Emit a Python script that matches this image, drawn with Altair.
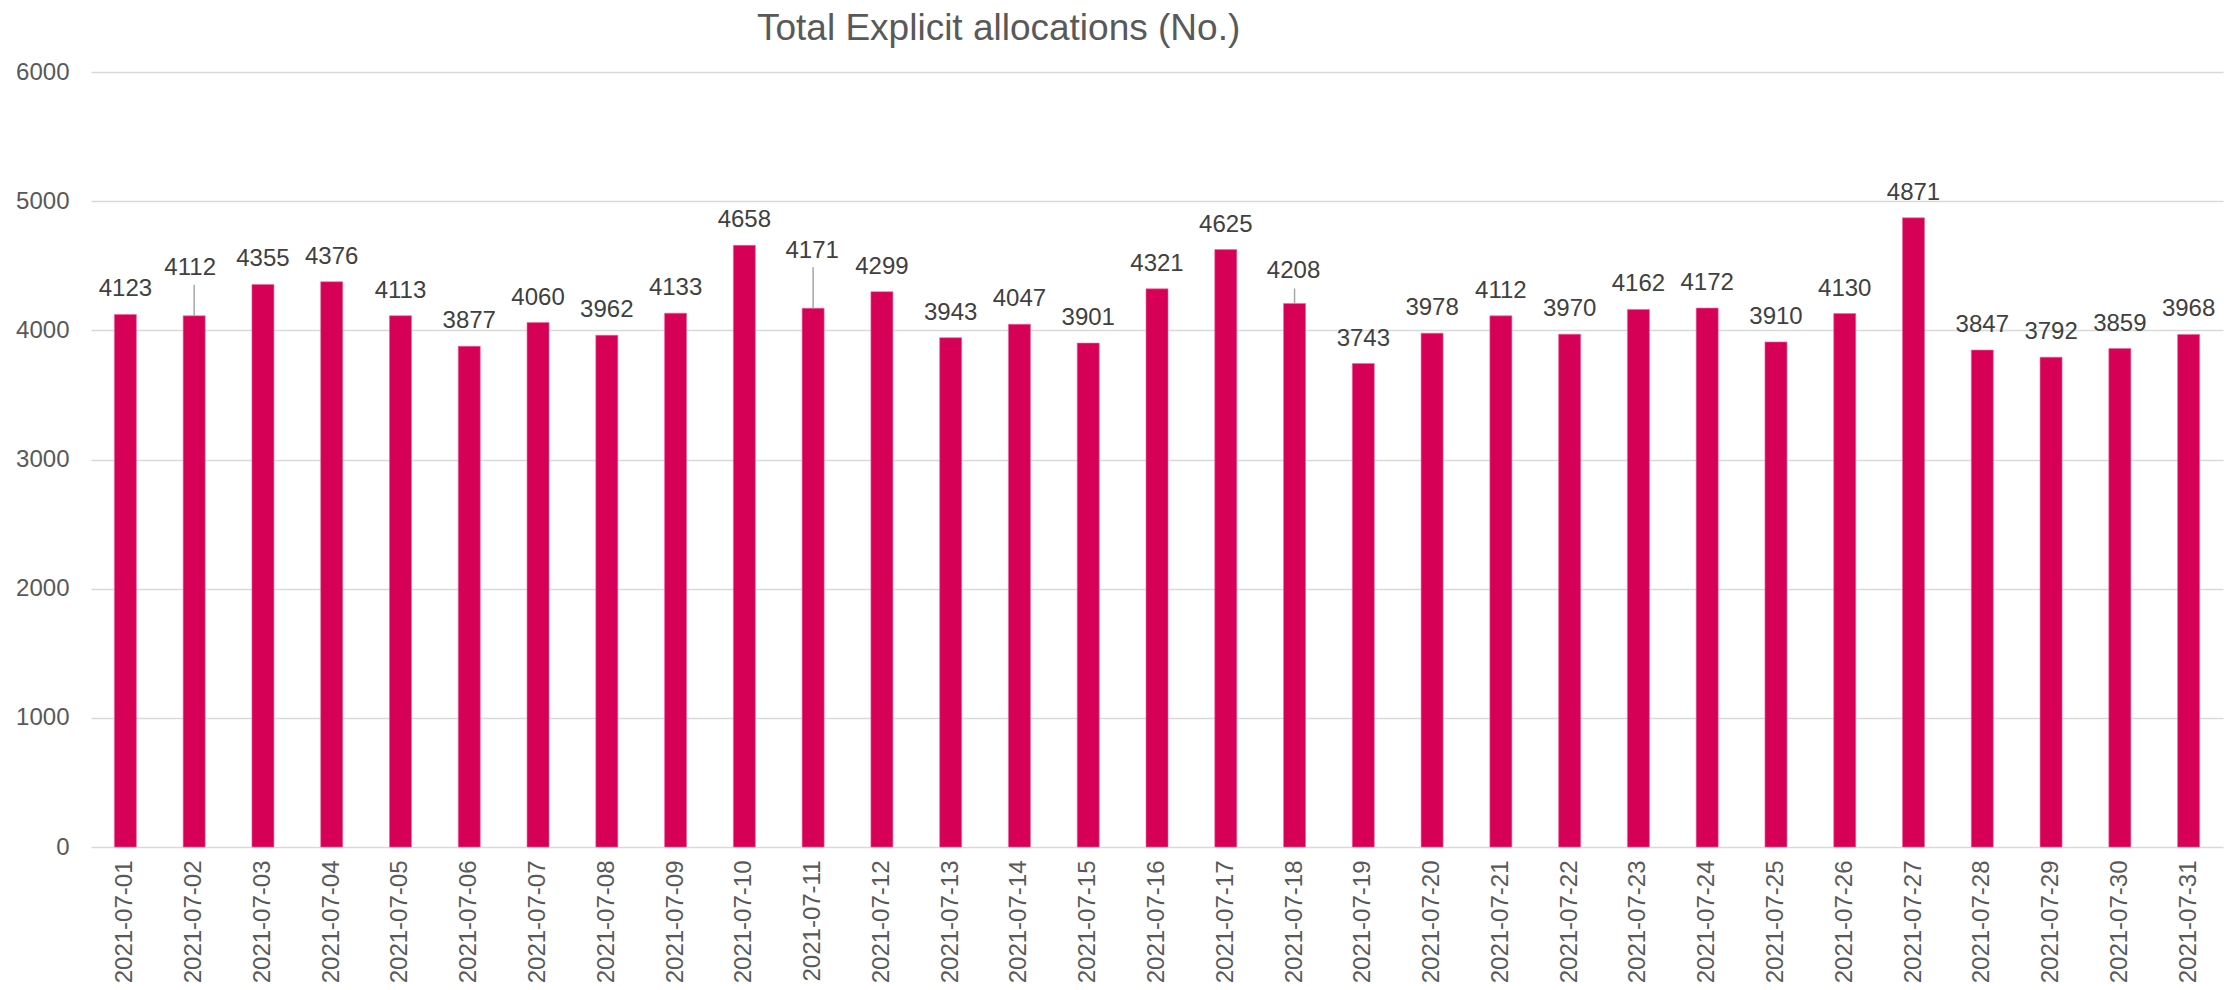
import altair as alt
import pandas as pd

dates = [f"2021-07-{d:02d}" for d in range(1, 32)]
values = [4123, 4112, 4355, 4376, 4113, 3877, 4060, 3962, 4133, 4658,
          4171, 4299, 3943, 4047, 3901, 4321, 4625, 4208, 3743, 3978,
          4112, 3970, 4162, 4172, 3910, 4130, 4871, 3847, 3792, 3859, 3968]
y_ticks = [0, 1000, 2000, 3000, 4000, 5000, 6000]
title_text = "Total Explicit allocations (No.)"

# labels that the original chart moved up and joined to their bar with a leader line
leader_labels = {"2021-07-02": (41, 31, -4), "2021-07-11": (50, 41, -1), "2021-07-18": (25, 15, -1)}

df = pd.DataFrame({"date": dates, "value": values})

FONT = "Liberation Sans"
BAR = "#D60057"

x_enc = alt.X("date:N", sort=dates, title=None,
              axis=alt.Axis(labelAngle=270, labelFontSize=24, labelFont=FONT,
                            labelColor="#595959", ticks=False, domain=False,
                            labelPadding=13, grid=False),
              scale=alt.Scale(paddingInner=0, paddingOuter=0))
y_enc = alt.Y("value:Q", title=None,
              scale=alt.Scale(domain=[0, 6000], nice=False),
              axis=alt.Axis(values=y_ticks, format="d", labelFontSize=24, labelFont=FONT,
                            labelColor="#595959", ticks=False, domain=False,
                            labelPadding=22, gridColor="#d9d9d9", gridWidth=1.5))

base = alt.Chart(df)

bars = base.mark_bar(size=22, color=BAR, stroke="#e8689b", strokeWidth=0.6).encode(x=x_enc, y=y_enc)

leader_keys = list(leader_labels.keys())
normal_text = base.transform_filter(
    ~alt.FieldOneOfPredicate(field="date", oneOf=leader_keys)
).mark_text(fontSize=24, font=FONT, color="#404040", baseline="alphabetic", dy=-18).encode(
    x=alt.X("date:N", sort=dates), y="value:Q", text=alt.Text("value:Q", format="d"))

layers = [bars, normal_text]
for key, (lift, line_len, dx) in leader_labels.items():
    sub = base.transform_filter(alt.datum.date == key)
    layers.append(sub.mark_rule(color="#a6a6a6", strokeWidth=1.5, y2Offset=-line_len).encode(
        x=alt.X("date:N", sort=dates), y="value:Q", y2="value:Q"))
    layers.append(sub.mark_text(fontSize=24, font=FONT, color="#404040", baseline="alphabetic",
                                dy=-lift, dx=dx).encode(
        x=alt.X("date:N", sort=dates), y="value:Q", text=alt.Text("value:Q", format="d")))

chart = alt.layer(*layers).properties(
    width=2132, height=775,
    autosize="none",
    background="white",
    padding={"left": 83, "top": 64, "right": 2, "bottom": 135},
    title=alt.TitleParams(title_text, fontSize=37, font=FONT, color="#595959",
                          fontWeight="normal", anchor="start", frame="group",
                          dx=666, offset=12),
).configure_view(strokeWidth=0)

chart.save("out.html", embed_options={"renderer": "svg", "actions": False})
